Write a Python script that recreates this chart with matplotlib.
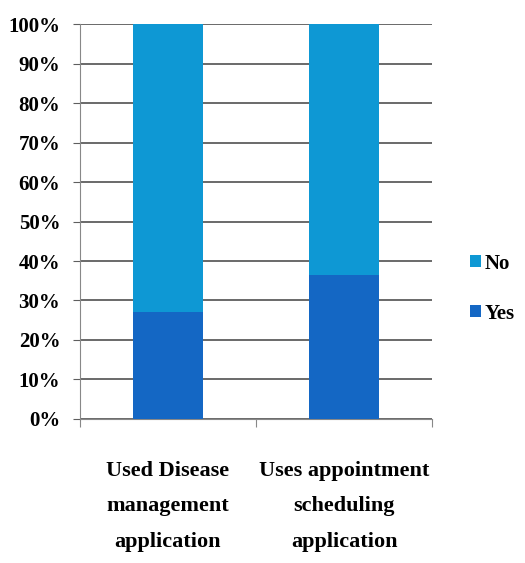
import numpy as np
import matplotlib.pyplot as plt
from matplotlib.ticker import PercentFormatter

# Anteile je Kategorie (in %)
categories = ['Used Disease\nmanagement\napplication',
              'Uses appointment\nscheduling\napplication']
yes_vals = np.array([27.0, 36.5])
no_vals = 100 - yes_vals

col_yes = '#1467c4'
col_no = '#0e98d4'
grid_col = '#5e5e5e'

plt.rcParams['font.family'] = ['Liberation Serif', 'DejaVu Serif']
plt.rcParams['font.weight'] = 'bold'

fig = plt.figure(figsize=(5.25, 5.63), dpi=100)
ax = fig.add_axes([0.152, 0.256, 0.671, 0.701])

x = np.arange(len(categories))
ax.bar(x, yes_vals, width=0.4, color=col_yes, label='Yes', zorder=3)
ax.bar(x, no_vals, width=0.4, bottom=yes_vals, color=col_no, label='No', zorder=3)

ax.set_xlim(-0.5, 1.5)
ax.set_ylim(0, 100)
ax.set_yticks(np.arange(0, 101, 10))
ax.yaxis.set_major_formatter(PercentFormatter(decimals=0))
ax.yaxis.grid(True, color=grid_col, linewidth=1.3, zorder=0)

# Teilstriche an den Kategoriegrenzen, Beschriftung mittig
ax.set_xticks([-0.5, 0.5, 1.5])
ax.set_xticklabels([])
ax.set_xticks(x, minor=True)
ax.set_xticklabels(categories, minor=True, fontsize=16, linespacing=2.05)
ax.tick_params(axis='x', which='minor', length=0, pad=30)
ax.tick_params(axis='x', which='major', length=6, color='#888888')
ax.tick_params(axis='y', length=5, color=grid_col, labelsize=15, pad=9)

for s in ['top', 'right']:
    ax.spines[s].set_visible(False)
ax.spines['left'].set_color('#888888')
ax.spines['bottom'].set_color('#888888')

h, l = ax.get_legend_handles_labels()
ax.legend(h[::-1], l[::-1], loc='center left', bbox_to_anchor=(1.055, 0.33),
          frameon=False, fontsize=15, handlelength=0.5, handleheight=0.5,
          handletextpad=0.2, labelspacing=1.45)

fig.savefig('out.png', dpi=100, facecolor='white')
